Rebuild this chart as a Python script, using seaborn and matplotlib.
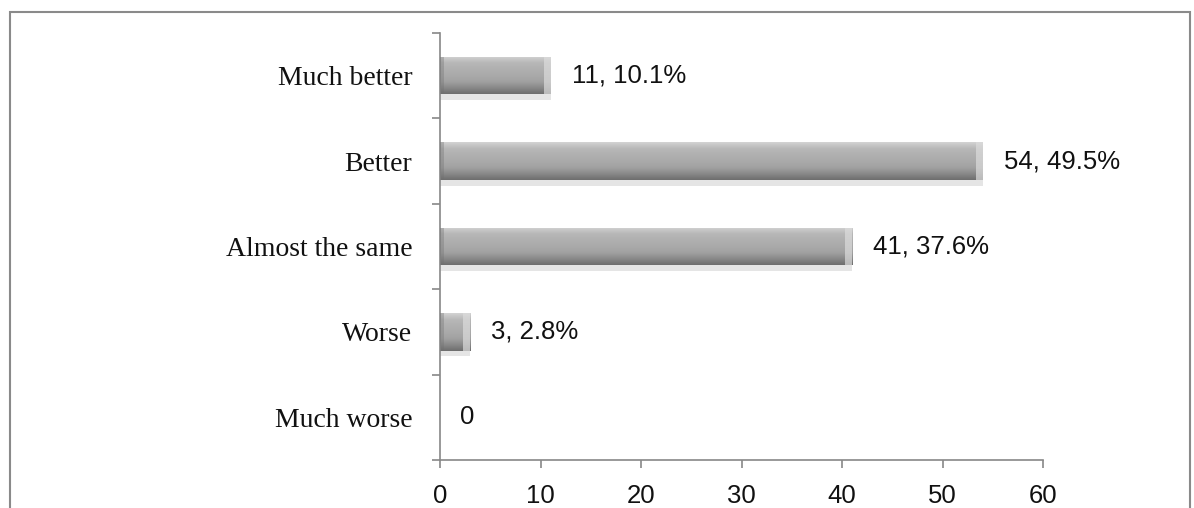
import numpy as np
import pandas as pd
import matplotlib
matplotlib.use("Agg")
import matplotlib.pyplot as plt
import seaborn as sns
from matplotlib.patches import Rectangle
from matplotlib.colors import LinearSegmentedColormap

categories = ["Much better", "Better", "Almost the same", "Worse", "Much worse"]
counts = [11, 54, 41, 3, 0]
percents = [10.1, 49.5, 37.6, 2.8, 0.0]
xticks = [0, 10, 20, 30, 40, 50, 60]

df = pd.DataFrame({"category": categories, "count": counts, "pct": percents})

sns.set_style("white")
fig = plt.figure(figsize=(11.94, 5.08), dpi=100)
ax = fig.add_axes([440 / 1194, 1 - 460 / 508, (1043 - 440) / 1194, (460 - 33) / 508])

sns.barplot(data=df, x="count", y="category", order=categories, color="#aaaaaa",
            width=0.44, ax=ax, saturation=1, edgecolor="none")

# bevelled grey shading on each bar: light top edge, darker bottom edge
shade = LinearSegmentedColormap.from_list(
    "bevel", ["#d2d2d2", "#b8b8b8", "#b0b0b0", "#aaaaaa", "#a2a2a2", "#8a8a8a", "#6e6e6e"])
grad = np.linspace(0, 1, 64).reshape(-1, 1)
for p in ax.patches:
    x0, y0 = p.get_x(), p.get_y()
    w, h = p.get_width(), p.get_height()
    if w <= 0:
        continue
    # soft drop shadow just under the bar
    ax.add_patch(Rectangle((x0, y0 + h * 0.15), w, h, facecolor="#000000",
                           alpha=0.10, edgecolor="none", zorder=1.5))
    # y axis is inverted, so the extent runs from the visual top (y0) to bottom
    im = ax.imshow(grad, cmap=shade, aspect="auto", extent=(x0, x0 + w, y0 + h, y0),
                   origin="upper", zorder=2.5, interpolation="bilinear")
    im.set_clip_path(p)
    bev = min(0.7, w * 0.25)
    # dark bevel at the bar start, light bevel at the bar end
    ax.add_patch(Rectangle((x0, y0), bev * 0.6, h, facecolor="#707070",
                           alpha=0.35, edgecolor="none", zorder=2.6))
    ax.add_patch(Rectangle((x0 + w - bev, y0), bev, h, facecolor="#dcdcdc",
                           alpha=0.7, edgecolor="none", zorder=2.6))

for i, (c, pc) in enumerate(zip(counts, percents)):
    label = f"{c}, {pc:.1f}%" if c > 0 else f"{c}"
    ax.text(c + 2.1 if c > 0 else 2.0, i, label, va="center", ha="left",
            fontsize=18.5, family="Liberation Sans", color="#111111")

ax.set_xlim(0, 60)
ax.set_ylim(len(categories) - 0.5, -0.5)
ax.set_xticks(xticks)
ax.set_xticklabels([str(t) for t in xticks], family="Liberation Sans", fontsize=18.5)
ax.set_yticks(range(len(categories)))
ax.set_yticklabels(categories, family="Liberation Serif", fontsize=20)
ax.set_yticks(np.arange(-0.5, len(categories), 1.0), minor=True)
ax.set_xlabel("")
ax.set_ylabel("")

for s in ["top", "right"]:
    ax.spines[s].set_visible(False)
for s in ["left", "bottom"]:
    ax.spines[s].set_color("#888888")
    ax.spines[s].set_linewidth(1.2)

ax.tick_params(axis="y", which="major", length=0, pad=20, colors="#111111")
ax.tick_params(axis="y", which="minor", length=6, width=1.2, color="#888888", left=True)
ax.tick_params(axis="x", which="major", length=6, width=1.2, color="#888888",
               pad=11, labelcolor="#111111", bottom=True)

# outer chart-area border
fig.add_artist(Rectangle((10 / 1194, -0.05), 1180 / 1194, 1 - 12 / 508 + 0.05,
                         transform=fig.transFigure, fill=False,
                         edgecolor="#8a8a8a", linewidth=1.5))

fig.savefig("out.png", dpi=100)
